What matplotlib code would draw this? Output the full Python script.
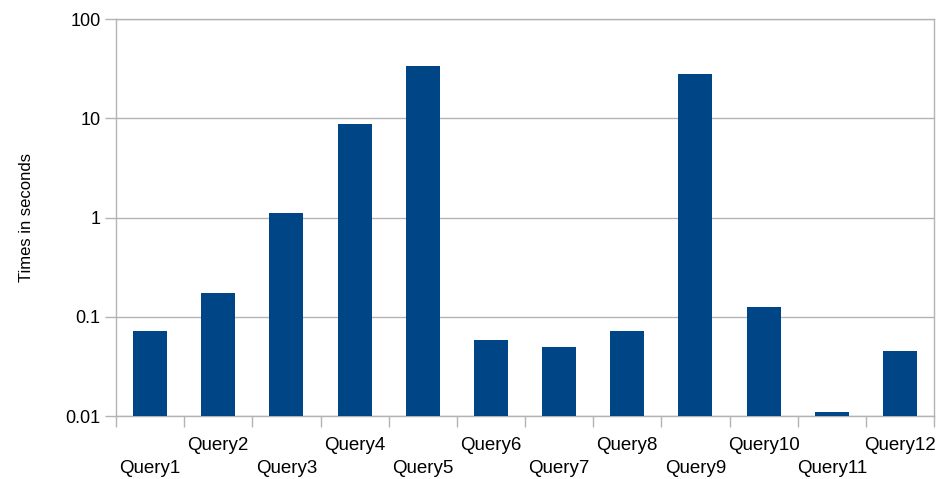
import matplotlib
matplotlib.use("Agg")
import matplotlib.pyplot as plt
import numpy as np
from matplotlib.ticker import FixedLocator, NullFormatter

plt.rcParams["font.family"] = ["Liberation Sans", "DejaVu Sans"]

queries = ["Query1", "Query2", "Query3", "Query4", "Query5", "Query6",
           "Query7", "Query8", "Query9", "Query10", "Query11", "Query12"]
times = [0.072, 0.175, 1.1, 8.7, 33.4, 0.0586, 0.050, 0.072, 27.7, 0.126, 0.011, 0.0454]
y_ticks = [0.01, 0.1, 1, 10, 100]
y_tick_labels = ["0.01", "0.1", "1", "10", "100"]

BAR_BLUE = "#004586"
GRID_GREY = "#b3b3b3"

fig = plt.figure(figsize=(9.43, 4.79), dpi=100)
ax = fig.add_axes([0.123, 0.1315, 0.8675, 0.8288])

x = np.arange(len(queries))
ax.bar(x, times, width=0.5, color=BAR_BLUE, zorder=3)

ax.set_yscale("log")
ax.set_ylim(0.01, 100)
ax.set_xlim(-0.5, len(queries) - 0.5)
ax.set_yticks(y_ticks)
ax.set_yticklabels(y_tick_labels)
ax.yaxis.set_minor_locator(FixedLocator([]))
ax.yaxis.set_minor_formatter(NullFormatter())
ax.grid(axis="y", color=GRID_GREY, linewidth=1.0, zorder=0)

# staggered category labels, tick marks at the category boundaries
ax.set_xticks(x)
ax.set_xticklabels([q if i % 2 else "\n" + q for i, q in enumerate(queries)])
for lbl in ax.get_xticklabels():
    lbl.set_linespacing(1.45)
ax.xaxis.set_minor_locator(FixedLocator(np.arange(-0.5, len(queries), 1.0)))
ax.tick_params(axis="x", which="major", length=0, pad=15, labelsize=13.5)
ax.tick_params(axis="x", which="minor", length=8, width=1, color=GRID_GREY)
ax.tick_params(axis="y", which="major", length=8, width=1, color=GRID_GREY,
               labelsize=13, pad=3)

for side in ("left", "right", "top", "bottom"):
    ax.spines[side].set_color(GRID_GREY)
    ax.spines[side].set_linewidth(1.0)

ax.set_ylabel("Times in seconds", fontsize=12, labelpad=23)

fig.savefig("out.png", dpi=100)
